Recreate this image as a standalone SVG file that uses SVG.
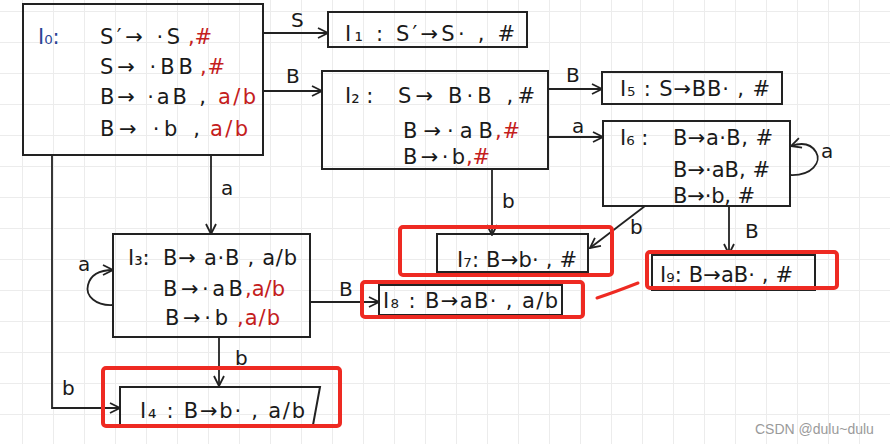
<svg xmlns="http://www.w3.org/2000/svg" width="890" height="444" viewBox="0 0 890 444">
<defs>
<pattern id="grid" x="22" y="11" width="31" height="31" patternUnits="userSpaceOnUse">
<path d="M0.5,0 V31 M0,0.5 H31" fill="none" stroke="#ececec" stroke-width="1"/>
</pattern>
<marker id="arr" viewBox="0 0 12 12" refX="11" refY="6" markerWidth="12" markerHeight="12" markerUnits="userSpaceOnUse" orient="auto">
<path d="M1,1 L11,6 L1,11" fill="none" stroke="#222" stroke-width="1.8"/>
</marker>
<style>
text{font-family:"DejaVu Sans","Liberation Sans",sans-serif;font-size:21px;fill:#1a1a1a}
.r{fill:#c4201c}
.bl{fill:#2a4595}
.box{fill:none;stroke:#222;stroke-width:2}
.hl{fill:none;stroke:#ee2a22;stroke-width:4}
.edge{fill:none;stroke:#222;stroke-width:1.8;marker-end:url(#arr)}
.lbl{font-size:20px}
.wm{font-family:"Liberation Sans",sans-serif;font-size:14px;fill:#9a9a9a}
</style>
</defs>
<rect width="890" height="444" fill="#ffffff"/>
<rect width="890" height="444" fill="url(#grid)"/>

<g id="connectors">
<path class="edge" d="M263,33 H328"/>
<text class="lbl" x="291" y="27">S</text>
<path class="edge" d="M263,91 H322"/>
<text class="lbl" x="286" y="83">B</text>
<path class="edge" d="M548,89 H602"/>
<text class="lbl" x="566" y="82">B</text>
<path class="edge" d="M548,137 H603"/>
<text class="lbl" x="572" y="133">a</text>
<path class="edge" d="M790,175 C812,176 822,162 816,152 C810,142 800,143 791,146"/>
<text class="lbl" x="821" y="158">a</text>
<path class="edge" d="M645,206 L590,248"/>
<text class="lbl" x="630" y="234">b</text>
<path class="edge" d="M729,206 V254"/>
<text class="lbl" x="745" y="238">B</text>
<path class="edge" d="M492,169 V235"/>
<text class="lbl" x="502" y="208">b</text>
<path class="edge" d="M310,302 H379"/>
<text class="lbl" x="339" y="296">B</text>
<path class="edge" d="M211,155 V234"/>
<text class="lbl" x="221" y="195">a</text>
<path class="edge" d="M113,305 C96,306 85,296 88,285 C91,273 102,270 113,270"/>
<text class="lbl" x="78" y="271">a</text>
<path class="edge" d="M219,337 V386"/>
<text class="lbl" x="235" y="365">b</text>
<path class="edge" d="M52,155 V408 H120"/>
<text class="lbl" x="62" y="395">b</text>
</g>

<g id="I0">
<rect class="box" x="23" y="4" width="240" height="151"/>
<text class="bl" x="38" y="44">I₀:</text>
<text x="100" y="44" textLength="80" lengthAdjust="spacing">S′→ ·S</text>
<text class="r" x="188" y="44" textLength="24" lengthAdjust="spacing">,#</text>
<text x="100" y="74" textLength="93" lengthAdjust="spacing">S→ ·BB</text>
<text class="r" x="200" y="74" textLength="25" lengthAdjust="spacing">,#</text>
<text x="100" y="104" textLength="106" lengthAdjust="spacing">B→ ·aB ,</text>
<text class="r" x="218" y="104" textLength="38" lengthAdjust="spacing">a/b</text>
<text x="100" y="136" textLength="100" lengthAdjust="spacing">B→ ·b  ,</text>
<text class="r" x="210" y="136" textLength="38" lengthAdjust="spacing">a/b</text>
</g>

<g id="I1">
<rect class="box" x="328" y="12" width="199" height="35"/>
<text x="345" y="41" textLength="170" lengthAdjust="spacing">I₁ : S′→S· , #</text>
</g>

<g id="I2">
<rect class="box" x="322" y="71" width="226" height="98"/>
<text x="345" y="103">I₂ :</text>
<text x="398" y="103" textLength="137" lengthAdjust="spacing">S→ B·B ,#</text>
<text x="403" y="138" textLength="90" lengthAdjust="spacing">B→·aB</text>
<text class="r" x="495" y="138" textLength="25" lengthAdjust="spacing">,#</text>
<text x="403" y="164" textLength="62" lengthAdjust="spacing">B→·b</text>
<text class="r" x="466" y="164" textLength="24" lengthAdjust="spacing">,#</text>
</g>

<g id="I5">
<rect class="box" x="602" y="72" width="180" height="32"/>
<text x="620" y="96" textLength="150" lengthAdjust="spacing">I₅ : S→BB· , #</text>
</g>

<g id="I6">
<rect class="box" x="603" y="121" width="187" height="85"/>
<text x="620" y="145">I₆ :</text>
<text x="673" y="145" textLength="100" lengthAdjust="spacing">B→a·B, #</text>
<text x="673" y="177" textLength="97" lengthAdjust="spacing">B→·aB, #</text>
<text x="673" y="203" textLength="82" lengthAdjust="spacing">B→·b, #</text>
</g>

<g id="I9">
<rect class="box" x="652" y="255" width="163" height="35"/>
<rect class="hl" x="647" y="252" width="190" height="36" rx="3"/>
<text x="660" y="282" textLength="133" lengthAdjust="spacing">I₉: B→aB· , #</text>
</g>

<g id="I7">
<rect class="box" x="437" y="234" width="151" height="38"/>
<rect class="hl" x="400" y="227" width="212" height="48" rx="3"/>
<text x="457" y="267" textLength="120" lengthAdjust="spacing">I₇: B→b· , #</text>
</g>

<g id="I8">
<rect class="box" x="379" y="285" width="183" height="30"/>
<rect class="hl" x="362" y="282" width="221" height="35" rx="3"/>
<text x="383" y="308" textLength="175" lengthAdjust="spacing">I₈ : B→aB· , a/b</text>
</g>

<g id="I3">
<rect class="box" x="113" y="234" width="197" height="103"/>
<text x="128" y="265">I₃:</text>
<text x="163" y="265" textLength="134" lengthAdjust="spacing">B→ a·B , a/b</text>
<text x="163" y="296" textLength="80" lengthAdjust="spacing">B→·aB</text>
<text class="r" x="245" y="296" textLength="40" lengthAdjust="spacing">,a/b</text>
<text x="165" y="325" textLength="63" lengthAdjust="spacing">B→·b</text>
<text class="r" x="237" y="325" textLength="43" lengthAdjust="spacing">,a/b</text>
</g>

<g id="I4">
<path class="box" d="M120,425 V387 H320 L313,425"/>
<rect class="hl" x="103" y="368" width="237" height="58" rx="3"/>
<text x="140" y="418" textLength="165" lengthAdjust="spacing">I₄ : B→b· , a/b</text>
</g>

<path d="M597,298 Q615,292 638,283" fill="none" stroke="#ee2a22" stroke-width="3" stroke-linecap="round"/>
<text class="wm" x="755" y="434">CSDN @dulu~dulu</text>
</svg>
